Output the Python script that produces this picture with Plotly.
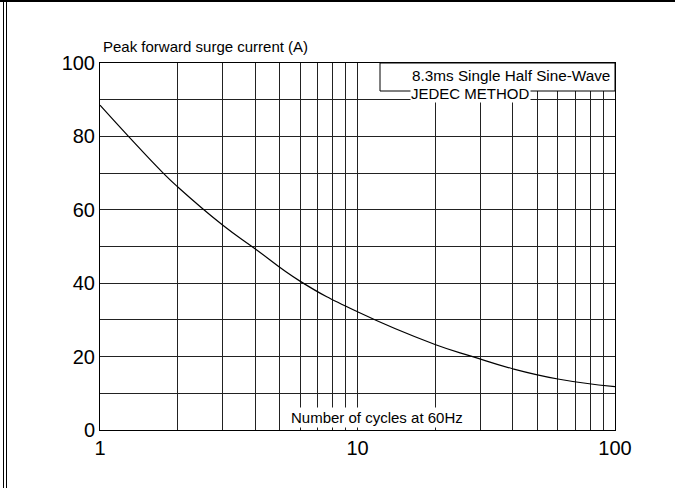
import plotly.graph_objects as go

# Data
cycles = [1, 1.29, 1.76, 2, 3, 4, 6, 10, 20, 28, 40, 60, 100]
surge_current = [88.5, 80, 70, 66.3, 55.8, 49.4, 40.5, 32.2, 23.3, 20, 16.7, 13.9, 11.8]

x_grid = [1, 2, 3, 4, 5, 6, 7, 8, 9, 10, 20, 30, 40, 50, 60, 70, 80, 90, 100]
x_labels = ["1", "", "", "", "", "", "", "", "", "10", "", "", "", "", "", "", "", "", "100"]
y_grid = [0, 10, 20, 30, 40, 50, 60, 70, 80, 90, 100]
y_labels = ["0", "", "20", "", "40", "", "60", "", "80", "", "100"]

FONT = "Arial, 'Liberation Sans', sans-serif"

# plot-area geometry (pixels) for paper conversions
L, R, T, B = 100, 615, 63, 430
W, H = 675, 488
def px(x):
    return (x - L) / (R - L)
def py(y):
    return (B - y) / (B - T)

fig = go.Figure()
fig.add_trace(go.Scatter(
    x=cycles, y=surge_current, mode="lines",
    line=dict(color="black", width=1.2, shape="spline", smoothing=1.3),
    hoverinfo="skip", showlegend=False,
))

fig.update_layout(
    width=W, height=H,
    margin=dict(l=L, r=W - R, t=T, b=H - B, pad=0),
    paper_bgcolor="white", plot_bgcolor="white",
    font=dict(family=FONT, color="black"),
    xaxis=dict(
        type="log", range=[0, 2], tickmode="array", tickvals=x_grid, ticktext=x_labels,
        showgrid=True, gridcolor="#222", gridwidth=1, zeroline=False,
        showline=True, linecolor="black", linewidth=1, mirror=True,
        ticks="", tickfont=dict(size=20, family=FONT, color="black"), fixedrange=True,
    ),
    yaxis=dict(
        range=[0, 100], tickmode="array", tickvals=y_grid, ticktext=y_labels,
        showgrid=True, gridcolor="#222", gridwidth=1, zeroline=False,
        showline=True, linecolor="black", linewidth=1, mirror=True,
        ticks="", tickfont=dict(size=20, family=FONT, color="black"), fixedrange=True,
    ),
    shapes=[
        # legend box in top-right
        dict(type="rect", xref="paper", yref="paper", x0=px(380), x1=1, y0=py(91), y1=1,
             fillcolor="white", line=dict(color="black", width=1), layer="above"),
        # outer frame: top line and double left line
        dict(type="line", xref="paper", yref="paper", x0=px(0), x1=px(675), y0=py(1), y1=py(1),
             line=dict(color="black", width=2)),
        dict(type="line", xref="paper", yref="paper", x0=px(3.5), x1=px(3.5), y0=py(0), y1=py(488),
             line=dict(color="black", width=1)),
        dict(type="line", xref="paper", yref="paper", x0=px(6.5), x1=px(6.5), y0=py(0), y1=py(488),
             line=dict(color="black", width=1)),
    ],
    annotations=[
        dict(text="Peak forward surge current (A)", xref="paper", yref="paper",
             x=px(101), y=py(46), xanchor="left", yanchor="middle", showarrow=False,
             font=dict(size=15, family=FONT, color="black")),
        dict(text="8.3ms Single Half Sine-Wave", xref="paper", yref="paper",
             x=px(410), y=py(76), xanchor="left", yanchor="middle", showarrow=False,
             font=dict(size=15.3, family=FONT, color="black")),
        dict(text="JEDEC METHOD", xref="paper", yref="paper",
             x=px(410), y=py(93), xanchor="left", yanchor="middle", showarrow=False,
             bgcolor="white", borderpad=0,
             font=dict(size=15, family=FONT, color="black")),
        dict(text="Number of cycles at 60Hz", xref="paper", yref="paper",
             x=px(376.5), y=py(417), xanchor="center", yanchor="middle", showarrow=False,
             bgcolor="white", borderpad=1,
             font=dict(size=15, family=FONT, color="black")),
    ],
)

fig.write_html("out.html", config={"displayModeBar": False, "staticPlot": True},
               post_script="document.body.style.margin='0';document.body.style.overflow='hidden';")
